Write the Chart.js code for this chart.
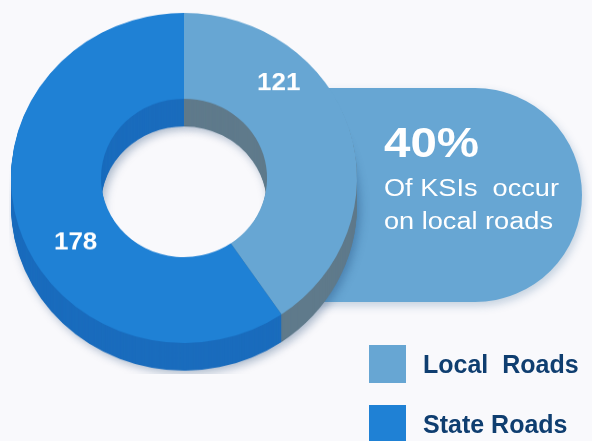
<!DOCTYPE html>
<html>
<head>
<meta charset="utf-8">
<script src="https://cdn.jsdelivr.net/npm/chart.js@4.4.1/dist/chart.umd.min.js"></script>
<style>
  html, body { margin: 0; padding: 0; background: #f9f9fc; }
  body { width: 592px; height: 441px; position: relative; overflow: hidden;
         font-family: 'Liberation Sans', Arial, sans-serif; }
  #pill { position: absolute; left: 290px; top: 88px; width: 292px; height: 214px;
          background: #67a6d3; border-radius: 0 107px 107px 0;
          box-shadow: 2px 4px 8px rgba(40, 90, 140, 0.25); }
  #wrap { position: absolute; left: 9px; top: 11px; width: 380px; height: 380px;
          transform: scaleY(0.954); transform-origin: 0 0; }
  .txt { position: absolute; left: 384px; color: #fff; white-space: pre;
         transform-origin: 0 0; }
  #pct { top: 122px; font-size: 42px; line-height: 42px; font-weight: bold; transform: scaleX(1.13); }
  #l1 { top: 177px; font-size: 23px; line-height: 23px; transform: scaleX(1.18); }
  #l2 { top: 210px; font-size: 23px; line-height: 23px; transform: scaleX(1.18); }
  .sw { position: absolute; left: 369px; width: 37px; height: 38px; }
  .lt { position: absolute; left: 423px; font-size: 25px; line-height: 25px; font-weight: bold;
        color: #0f3e70; white-space: pre; }
</style>
</head>
<body>
<div id="pill"></div>
<div id="wrap"><canvas id="donut" width="380" height="380"></canvas></div>
<div class="txt" id="pct"></div>
<div class="txt" id="l1">Of KSIs  occur</div>
<div class="txt" id="l2">on local roads</div>
<div id="legend"></div>
<script>
// KSIs by road type
const categories = ['Local Roads', 'State Roads'];
const legendText = ['Local  Roads', 'State Roads'];
const ksiCounts = [121, 178];

const topColors = ['#67a6d3', '#1f81d5'];
const sideColors = ['#5f7a8b', '#1a6cbd'];
const DEPTH = 29;

// label placement inside each arc: fraction of the sweep, fraction of the ring width
const labelPlace = [{ a: 0.30, r: 0.60 }, { a: 0.43, r: 0.50 }];

const total = ksiCounts.reduce((s, v) => s + v, 0);
document.getElementById('pct').textContent = Math.round(ksiCounts[0] / total * 100) + '%';

// legend
const legendEl = document.getElementById('legend');
categories.forEach((c, i) => {
  const top = 345 + i * 60;
  legendEl.insertAdjacentHTML('beforeend',
    `<div class="sw" style="top:${top}px;background:${topColors[i]}"></div>` +
    `<div class="lt" style="top:${top + 7}px">${legendText[i]}</div>`);
});

function arcPath(ctx, a) {
  ctx.beginPath();
  ctx.arc(a.x, a.y, a.outerRadius, a.startAngle, a.endAngle);
  ctx.arc(a.x, a.y, a.innerRadius, a.endAngle, a.startAngle, true);
  ctx.closePath();
}

// fake 3D: stack darker copies of the arcs under the top face
const extrude = {
  id: 'extrude',
  beforeDatasetsDraw(chart) {
    const ctx = chart.ctx;
    const arcs = chart.getDatasetMeta(0).data;
    for (let d = DEPTH; d >= 1; d--) {
      ctx.save();
      ctx.translate(0, d);
      if (d === DEPTH) {
        ctx.shadowColor = 'rgba(20, 60, 110, 0.35)';
        ctx.shadowBlur = 10;
        ctx.shadowOffsetX = 3;
        ctx.shadowOffsetY = 3;
      }
      arcs.forEach((a, i) => {
        arcPath(ctx, a);
        ctx.fillStyle = sideColors[i];
        ctx.fill();
      });
      ctx.restore();
    }
  },
  afterDatasetsDraw(chart) {
    const ctx = chart.ctx;
    const arcs = chart.getDatasetMeta(0).data;
    ctx.save();
    ctx.fillStyle = '#ffffff';
    ctx.font = 'bold 26px "Liberation Sans", Arial, sans-serif';
    ctx.textAlign = 'center';
    ctx.textBaseline = 'middle';
    arcs.forEach((a, i) => {
      const p = labelPlace[i];
      const ang = a.startAngle + (a.endAngle - a.startAngle) * p.a;
      const rad = a.innerRadius + (a.outerRadius - a.innerRadius) * p.r;
      ctx.fillText(String(ksiCounts[i]), a.x + Math.cos(ang) * rad, a.y + Math.sin(ang) * rad);
    });
    ctx.restore();
  }
};

new Chart(document.getElementById('donut'), {
  type: 'doughnut',
  data: {
    labels: categories,
    datasets: [{
      data: ksiCounts,
      backgroundColor: topColors,
      borderWidth: 0
    }]
  },
  options: {
    responsive: false,
    animation: false,
    cutout: '48%',
    layout: { padding: { left: 2, top: 2, right: 32, bottom: 32 } },
    plugins: { legend: { display: false }, tooltip: { enabled: false } }
  },
  plugins: [extrude]
});
</script>
</body>
</html>
